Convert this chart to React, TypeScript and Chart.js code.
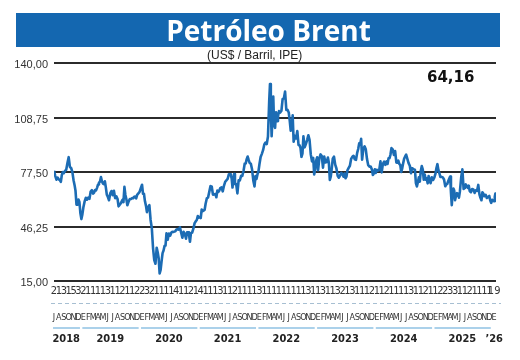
import React, { useEffect, useRef } from "react";
import { Chart, registerables } from "chart.js";

Chart.register(...registerables);

// ---------- labels ----------
const TITLE = "Petróleo Brent";
const SUBTITLE = "(US$ / Barril, IPE)";
const LAST_VALUE_LABEL = "64,16";
const Y_TICKS = [15, 46.25, 77.5, 108.75, 140];
const MONTHS_2018 = ["J", "A", "S", "O", "N", "D"];
const MONTHS = ["E", "F", "M", "A", "M", "J", "J", "A", "S", "O", "N", "D"];
const MONTHS_2026 = ["E"];
const YEAR_LABELS = ["2018", "2019", "2020", "2021", "2022", "2023", "2024", "2025", "\u201926"];
const DIGIT_ROW = (
  "2131532111131121122321111411214111311211113" +
  "11111111131131132131112112111131121122331121111"
).split("").concat(["19"]);

// ---------- data: weekly Brent values, grouped by month ----------
const brent2018 = [
  [78.2, 75.3, 73.1, 74.3],
  [73.2, 72.8, 71.8, 75.8, 77.4],
  [76.8, 78.1, 78.8, 82.7],
  [86.0, 80.4, 79.8, 77.6],
  [72.8, 70.1, 66.7, 58.8, 58.7],
  [61.7, 60.3, 53.8, 50.5, 53.2],
];
const brent2019 = [
  [57.1, 60.5, 62.7, 61.6],
  [62.8, 62.1, 66.3, 67.1],
  [65.1, 65.7, 67.2, 67.0, 68.4],
  [70.3, 71.5, 71.9, 74.6, 72.2],
  [70.9, 70.6, 72.2, 68.7, 64.5],
  [63.3, 61.3, 65.2, 66.6],
  [64.2, 66.7, 62.5, 63.5],
  [62.0, 57.8, 58.6, 59.3, 60.4],
  [61.5, 60.2, 69.0, 64.3, 61.9],
  [58.4, 60.5, 62.0, 62.0],
  [62.5, 62.5, 63.3, 63.4, 62.4],
  [64.4, 65.2, 66.1, 68.2],
];
const brent2020 = [
  [70.2, 65.0, 64.9, 60.7, 58.2],
  [54.5, 57.3, 58.5, 50.0],
  [45.3, 33.9, 27.0, 24.9],
  [34.1, 31.5, 28.1, 19.3, 21.4],
  [26.4, 31.0, 32.5, 35.1, 35.3],
  [42.3, 38.7, 42.2, 41.0],
  [42.8, 43.2, 43.1, 43.3, 43.5],
  [44.4, 44.8, 44.4, 45.8],
  [42.7, 39.8, 43.2, 41.9],
  [39.3, 42.9, 42.9, 41.8, 37.5],
  [42.4, 42.8, 45.0, 48.2],
  [49.3, 50.0, 52.3, 51.3, 51.8],
];
const brent2021 = [
  [51.1, 56.0, 55.1, 55.4, 55.9],
  [59.3, 62.4, 62.9, 66.1],
  [69.4, 69.2, 64.5, 64.6],
  [64.9, 63.0, 66.8, 66.1, 66.8],
  [68.3, 68.7, 66.4, 69.6],
  [71.9, 72.7, 73.5, 76.2],
  [76.2, 75.6, 73.6, 68.6, 74.1, 76.3],
  [70.7, 70.6, 65.2, 72.7],
  [72.6, 75.3, 75.3, 78.1],
  [82.4, 82.4, 84.9, 86.4, 84.4],
  [82.7, 82.2, 78.9, 72.7],
  [69.2, 75.2, 73.5, 76.1, 77.8],
];
const brent2022 = [
  [81.8, 86.1, 87.9, 90.0],
  [93.3, 94.4, 93.5, 97.9],
  [118.1, 128.0, 112.7, 98.0, 107.9, 120.7],
  [104.4, 102.8, 111.7, 106.7, 109.3],
  [112.4, 111.6, 112.6, 119.4],
  [119.7, 123.6, 113.1, 113.1],
  [111.6, 107.0, 101.2, 103.2, 110.0],
  [94.9, 98.2, 96.7, 101.0],
  [93.0, 92.8, 91.4, 86.2, 88.0],
  [97.9, 91.6, 93.5, 95.8],
  [98.6, 96.0, 87.6, 83.6],
  [85.6, 76.1, 79.0, 84.0, 85.9],
];
const brent2023 = [
  [78.6, 85.3, 87.6, 86.7],
  [80.0, 86.4, 83.0, 83.2],
  [85.8, 82.8, 73.0, 75.0, 79.8],
  [85.1, 86.3, 81.7, 79.5],
  [75.3, 74.2, 75.6, 77.0],
  [76.1, 74.8, 76.6, 73.9, 74.9],
  [78.5, 79.9, 81.1, 85.0],
  [86.2, 86.8, 84.8, 84.5],
  [88.6, 90.7, 93.9, 93.3, 96.5],
  [84.6, 90.9, 92.2, 90.5],
  [84.9, 81.4, 80.6, 80.6],
  [78.9, 75.8, 76.6, 79.1, 77.0],
];
const brent2024 = [
  [78.8, 78.3, 78.6, 83.6],
  [77.3, 82.2, 83.5, 81.6],
  [83.6, 82.1, 85.3, 85.4, 87.5],
  [91.2, 90.5, 87.3, 89.5],
  [83.0, 82.8, 84.0, 82.1, 81.6],
  [77.5, 79.6, 82.6, 85.2, 86.4],
  [87.4, 85.0, 82.6, 81.1],
  [76.8, 79.7, 79.7, 79.0, 78.8],
  [71.1, 69.2, 71.6, 74.5, 72.0],
  [78.1, 80.9, 79.0, 73.1, 76.1],
  [73.1, 73.9, 71.0, 75.2, 72.9],
  [71.1, 74.5, 72.9, 74.2],
];
const brent2025 = [
  [76.5, 79.8, 82.0, 78.5, 76.8],
  [74.7, 74.7, 74.4, 73.2],
  [69.3, 70.4, 70.6, 72.2, 73.6],
  [74.9, 65.6, 58.5, 64.8, 68.0, 66.9],
  [61.3, 63.9, 65.4, 64.8, 62.8],
  [66.5, 74.2, 79.0, 67.8],
  [68.3, 70.4, 69.3, 68.4, 69.7],
  [66.6, 65.9, 67.7, 67.5],
  [65.5, 67.0, 66.7, 70.1],
  [64.5, 62.7, 61.3, 65.9, 65.1],
  [63.6, 64.4, 62.6, 63.2],
  [63.8, 61.1, 59.8, 61.6, 60.9],
];
const brent2026 = [[60.8, 63.3, 65.2, 64.16]];
// share of the last month covered by data (series ends mid-January)
const LAST_MONTH_SHARE = 0.5;

const YEARS_DATA = [brent2018, brent2019, brent2020, brent2021, brent2022, brent2023, brent2024, brent2025, brent2026];
const MONTH_LETTERS = [...MONTHS_2018, ...Array.from({ length: 7 }, () => MONTHS).flat(), ...MONTHS_2026];

// ---------- derived ----------
const allMonths = YEARS_DATA.flat();
const points: { x: number; y: number }[] = [];
allMonths.forEach((vals, m) => {
  const share = m === allMonths.length - 1 ? LAST_MONTH_SHARE : 1;
  vals.forEach((v, k) => points.push({ x: m + (k / vals.length) * share, y: v }));
});
const X_MAX = points[points.length - 1].x;
const MONTH_POS = allMonths.map((_, m) => m);
const YEAR_SPANS: [number, number][] = [];
{
  let s = 0;
  YEARS_DATA.forEach((yr) => {
    YEAR_SPANS.push([s, s + yr.length - 1]);
    s += yr.length;
  });
}
const YEAR_POS = YEAR_SPANS.map(([a, b]) => (a + b) / 2);

const BLUE_BAR = "#1467b0";
const LINE_BLUE = "#1c6cb4";
const NARROW = "'Liberation Sans Narrow', 'DejaVu Sans Condensed', 'Roboto Condensed', sans-serif";

function bottomAxis(weight: number, positions: number[], labels: string[], font: any, padding: number, height: number, color: string) {
  return {
    type: "linear" as const,
    position: "bottom" as const,
    min: 0,
    max: X_MAX,
    weight,
    afterBuildTicks: (s: any) => {
      s.ticks = positions.map((v) => ({ value: v }));
    },
    afterFit: (s: any) => {
      s.height = height;
    },
    grid: { display: false, drawTicks: false },
    border: { display: false },
    ticks: {
      autoSkip: false,
      maxRotation: 0,
      minRotation: 0,
      padding,
      color,
      font,
      callback: (_v: any, i: number) => labels[i],
    },
  };
}

const decorPlugin = {
  id: "decor",
  afterDraw(chart: any) {
    const { ctx } = chart;
    const sx = chart.scales.x;
    const sm = chart.scales.xm;
    const sy = chart.scales.xy;
    ctx.save();
    ctx.strokeStyle = "#a7bfd2";
    ctx.lineWidth = 1;
    ctx.setLineDash([4, 3]);
    const yDash = Math.round(sm.top) + 0.5;
    ctx.beginPath();
    ctx.moveTo(sx.getPixelForValue(0) - 3, yDash);
    ctx.lineTo(sx.getPixelForValue(X_MAX) + 5, yDash);
    ctx.stroke();
    ctx.setLineDash([]);
    ctx.strokeStyle = "#8fc2e3";
    ctx.lineWidth = 1.5;
    const yLine = Math.round(sy.top) + 5;
    YEAR_SPANS.forEach(([a, b]) => {
      if (b - a < 2) return;
      ctx.beginPath();
      ctx.moveTo(sx.getPixelForValue(a) - 1, yLine);
      ctx.lineTo(sx.getPixelForValue(b) + 1.5, yLine);
      ctx.stroke();
    });
    ctx.restore();
  },
};

export default function App() {
  const canvasRef = useRef<HTMLCanvasElement | null>(null);

  useEffect(() => {
    document.body.style.margin = "0";
    const canvas = canvasRef.current;
    if (!canvas) return;
    const chart = new Chart(canvas, {
      type: "line",
      data: {
        datasets: [
          {
            data: points,
            borderColor: LINE_BLUE,
            borderWidth: 2.6,
            pointRadius: 0,
            tension: 0,
            fill: false,
            borderJoinStyle: "round",
            xAxisID: "x",
            yAxisID: "y",
          },
        ],
      },
      options: {
        responsive: false,
        animation: false,
        devicePixelRatio: 1,
        layout: { padding: { top: 63, right: 24, bottom: 0, left: 0 } },
        plugins: { legend: { display: false }, tooltip: { enabled: false }, title: { display: false } },
        scales: {
          y: {
            type: "linear",
            position: "left",
            min: 15,
            max: 140,
            afterBuildTicks: (s: any) => {
              s.ticks = Y_TICKS.map((v) => ({ value: v }));
            },
            afterFit: (s: any) => {
              s.width = 54;
            },
            grid: { color: "#2b2b2b", lineWidth: 2, drawTicks: false },
            border: { display: false },
            ticks: {
              padding: 6,
              labelOffset: 2,
              color: "#333",
              font: { family: "'Liberation Sans', Arial, sans-serif", size: 11 },
              callback: (v: any) => Number(v).toFixed(2).replace(".", ","),
            },
          },
          x: bottomAxis(0, MONTH_POS, DIGIT_ROW, { family: NARROW, size: 11 }, 4, 22, "#333"),
          xm: bottomAxis(1, MONTH_POS, MONTH_LETTERS, { family: NARROW, size: 9 }, 9, 20, "#333"),
          xy: bottomAxis(2, YEAR_POS, YEAR_LABELS, { family: NARROW, size: 11, weight: "bold" }, 10, 37, "#222"),
        } as any,
      },
      plugins: [decorPlugin],
    });
    return () => chart.destroy();
  }, []);

  return (
    <div style={{ position: "relative", width: 520, height: 360, background: "#fff" }}>
      <canvas ref={canvasRef} width={520} height={360} style={{ position: "absolute", left: 0, top: 0 }} />
      <div
        style={{
          position: "absolute",
          left: 16,
          top: 13,
          width: 484,
          height: 34,
          background: BLUE_BAR,
          paddingLeft: 21,
          boxSizing: "border-box",
          textAlign: "center",
          color: "#fff",
          fontFamily: "'Open Sans', sans-serif",
          fontWeight: 700,
          fontSize: 28,
          lineHeight: "34px",
          whiteSpace: "nowrap",
        }}
      >
        {TITLE}
      </div>
      <div
        style={{
          position: "absolute",
          left: 207,
          top: 48,
          fontFamily: "'Liberation Sans', Arial, sans-serif",
          fontSize: 12,
          lineHeight: "14px",
          color: "#222",
          whiteSpace: "nowrap",
        }}
      >
        {SUBTITLE}
      </div>
      <div
        style={{
          position: "absolute",
          left: 427,
          top: 69,
          fontFamily: "'DejaVu Sans', sans-serif",
          fontWeight: 700,
          fontSize: 15,
          lineHeight: "17px",
          color: "#111",
          whiteSpace: "nowrap",
        }}
      >
        {LAST_VALUE_LABEL}
      </div>
    </div>
  );
}
